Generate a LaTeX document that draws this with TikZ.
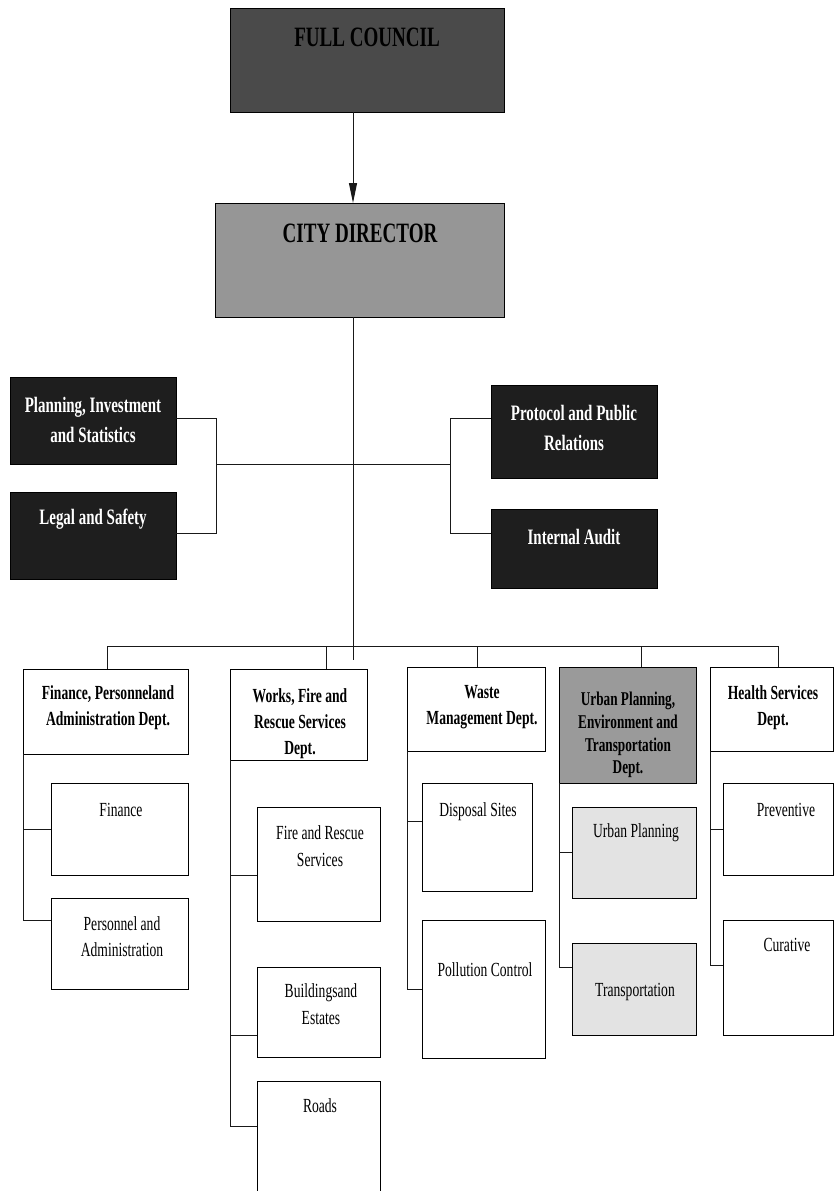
\documentclass[tikz,border=0pt]{standalone}
\usepackage{fontspec}
\usetikzlibrary{arrows.meta,calc}
\newfontfamily\cnd[FakeStretch=0.68]{Liberation Serif}
\definecolor{fcgray}{HTML}{4A4A4A}
\definecolor{cdgray}{HTML}{969696}
\definecolor{staffbk}{HTML}{1E1E1E}
\definecolor{urbgray}{HTML}{9A9A9A}
\definecolor{ltgray}{HTML}{E3E3E3}
\newcommand\orgbranch[3]{%
  \coordinate (#2b) at ($(#2.north west)+(0,#3)$);
  \draw[conn] (#2b -| #1.west) -- (#2b);}
\begin{document}
\begin{tikzpicture}[x=1pt,y=-1pt,
  box/.style={draw=black,line width=1pt,inner sep=0pt,outer sep=0pt,fill=white},
  conn/.style={draw=black!90,line width=1pt},
  toptxt/.style={font=\cnd\bfseries\fontsize{28}{30}\selectfont,inner sep=0pt},
  stafftxt/.style={font=\cnd\bfseries\fontsize{22}{30}\selectfont,text=white,align=center,inner sep=0pt},
  depttxt/.style={font=\cnd\bfseries\fontsize{20}{26}\selectfont,align=center,inner sep=0pt},
  urbtxt/.style={font=\cnd\bfseries\fontsize{19.5}{22.8}\selectfont,align=center,inner sep=0pt},
  subtxt/.style={font=\cnd\fontsize{20}{26.5}\selectfont,align=center,inner sep=0pt}]
\useasboundingbox (0,0) rectangle (834,1191);
\clip (0,0) rectangle (834,1191);

% top
\node[box,fill=fcgray,minimum width=274pt,minimum height=104pt] (FC) at (367,60) {};
\node[toptxt] (FCt) at (367,37) {FULL COUNCIL};
\node[box,fill=cdgray,minimum width=289pt,minimum height=114pt] (CD) at (359.5,260) {};
\node[toptxt] (CDt) at (360,233) {CITY DIRECTOR};

\coordinate (spine) at (353,0);
\coordinate (spEnd) at (353,660);
\draw[conn,-{Triangle[length=20pt,width=8pt]}] (FC.south -| spine) -- (CD.north -| spine);
\draw[conn] (CD.south -| spine) -- (spEnd);

% staff
\node[box,fill=staffbk,minimum width=166pt,minimum height=87pt] (PIS) at (93,420.5) {};
\node[stafftxt] (PISt) at (93,420) {Planning, Investment\\and Statistics};
\node[box,fill=staffbk,minimum width=166pt,minimum height=87pt] (LS) at (93,535.5) {};
\node[stafftxt] (LSt) at (93,519) {Legal and Safety};
\node[box,fill=staffbk,minimum width=166pt,minimum height=93pt] (PPR) at (574,431.5) {};
\node[stafftxt] (PPRt) at (574,427.5) {Protocol and Public\\Relations};
\node[box,fill=staffbk,minimum width=166pt,minimum height=79pt] (IA) at (574,548.5) {};
\node[stafftxt] (IAt) at (574,537) {Internal Audit};

\coordinate (jL) at (216,464);
\coordinate (jR) at (450,464);
\draw[conn] (jL) -- (jR);
\draw[conn] ([yshift=-41pt]PIS.north east) -| (jL);
\draw[conn] ([yshift=-41pt]LS.north east) -| (jL);
\draw[conn] ([yshift=-33pt]PPR.north west) -| (jR);
\draw[conn] ([yshift=-24pt]IA.north west) -| (jR);

% departments
\node[box,minimum width=165pt,minimum height=85pt] (Fin) at (105.5,711.5) {};
\node[depttxt] (Fint) at (108,707.5) {Finance, Personneland\\Administration Dept.};
\node[box,minimum width=137pt,minimum height=91pt] (Works) at (298.5,714.5) {};
\begin{scope}
\clip (Works.south west) rectangle (Works.north east);
\node[depttxt] (Workst) at (300,724) {Works, Fire and\\Rescue Services\\Dept.};
\end{scope}
\node[box,minimum width=138pt,minimum height=84pt] (Waste) at (476,709) {};
\node[depttxt] (Wastet) at (482,707.5) {Waste\\Management Dept.};
\node[box,fill=urbgray,minimum width=137pt,minimum height=116pt] (Urban) at (627.5,725) {};
\begin{scope}
\clip (Urban.south west) rectangle (Urban.north east);
\node[urbtxt] (Urbant) at (628,735) {Urban Planning,\\Environment and\\Transportation\\Dept.};
\end{scope}
\node[box,minimum width=123pt,minimum height=84pt] (Health) at (771.5,709) {};
\node[depttxt] (Healtht) at (773,707.5) {Health Services\\Dept.};

% bus
\coordinate (busL) at (107,646);
\coordinate (busR) at (778,646);
\coordinate (dW) at (326,646);
\coordinate (dS) at (477,646);
\coordinate (dU) at (641,646);
\draw[conn] (busL) -- (busR);
\draw[conn] (busL) -- (busL |- Fin.north);
\draw[conn] (dW) -- (dW |- Works.north);
\draw[conn] (dS) -- (dS |- Waste.north);
\draw[conn] (dU) -- (dU |- Urban.north);
\draw[conn] (busR) -- (busR |- Health.north);

% sub units
\node[box,minimum width=137pt,minimum height=92pt] (Finance) at (119.5,829) {};
\node[subtxt] (Financet) at (121,810) {Finance};
\node[box,minimum width=137pt,minimum height=91pt] (Pers) at (119.5,943.5) {};
\node[subtxt] (Perst) at (122,936.5) {Personnel and\\Administration};

\node[box,minimum width=123pt,minimum height=114pt] (Fire) at (318.5,864) {};
\node[subtxt] (Firet) at (320,846) {Fire and Rescue\\Services};
\node[box,minimum width=123pt,minimum height=90pt] (Build) at (318.5,1012) {};
\node[subtxt] (Buildt) at (321,1004) {Buildingsand\\Estates};
\node[box,minimum width=123pt,minimum height=119pt] (Roads) at (318.5,1140.5) {};
\node[subtxt] (Roadst) at (320,1106) {Roads};

\node[box,minimum width=110pt,minimum height=108pt] (Disp) at (477,837) {};
\node[subtxt] (Dispt) at (478,812) {Disposal Sites};
\node[box,minimum width=123pt,minimum height=138pt] (Poll) at (483.5,989) {};
\node[subtxt] (Pollt) at (485,970) {Pollution Control};

\node[box,fill=ltgray,minimum width=124pt,minimum height=91pt] (UP) at (634,852.5) {};
\node[subtxt] (UPt) at (636,833) {Urban Planning};
\node[box,fill=ltgray,minimum width=124pt,minimum height=92pt] (Trans) at (634,989) {};
\node[subtxt] (Transt) at (635,992) {Transportation};

\node[box,minimum width=110pt,minimum height=92pt] (Prev) at (778,829) {};
\node[subtxt] (Prevt) at (786,810) {Preventive};
\node[box,minimum width=110pt,minimum height=115pt] (Cur) at (778,977.5) {};
\node[subtxt] (Curt) at (787,945) {Curative};

% branches
\orgbranch{Fin}{Finance}{46}
\orgbranch{Fin}{Pers}{22}
\draw[conn] (Fin.south west) -- (Persb -| Fin.west);

\orgbranch{Works}{Fire}{68}
\orgbranch{Works}{Build}{68}
\orgbranch{Works}{Roads}{45}
\draw[conn] (Works.south west) -- (Roadsb -| Works.west);

\orgbranch{Waste}{Disp}{38}
\orgbranch{Waste}{Poll}{69}
\draw[conn] (Waste.south west) -- (Pollb -| Waste.west);

\orgbranch{Urban}{UP}{45}
\orgbranch{Urban}{Trans}{24}
\draw[conn] (Urban.south west) -- (Transb -| Urban.west);

\orgbranch{Health}{Prev}{46}
\orgbranch{Health}{Cur}{45}
\draw[conn] (Health.south west) -- (Curb -| Health.west);
\end{tikzpicture}
\end{document}
